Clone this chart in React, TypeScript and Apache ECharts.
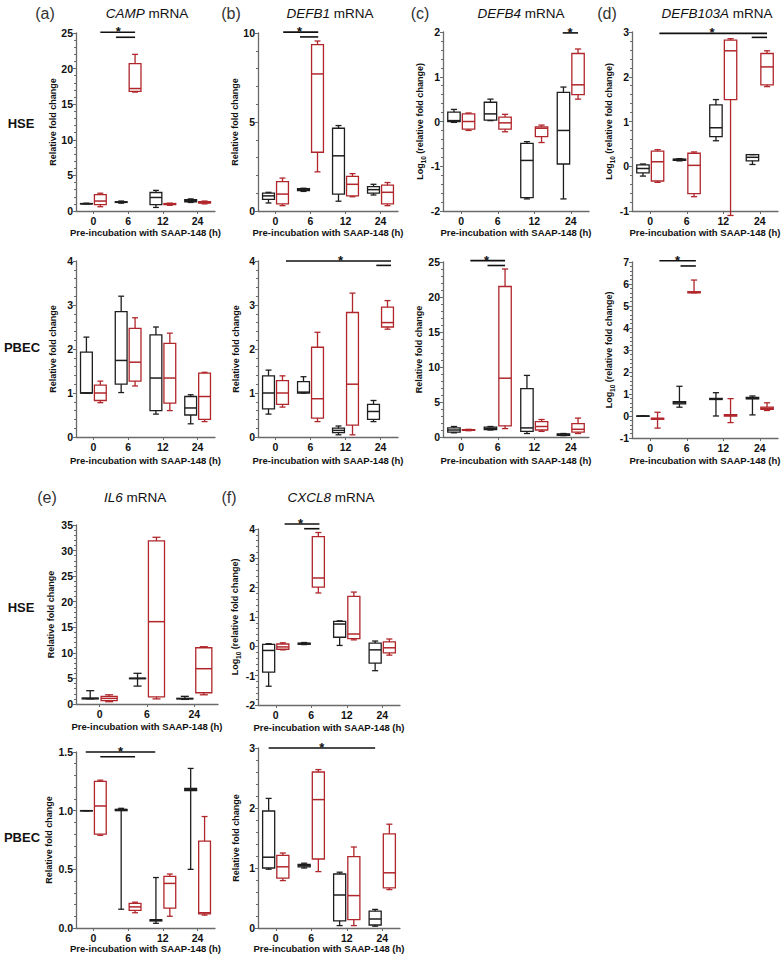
import { useEffect, useRef } from "react";
import * as echarts from "echarts";

const FONT = "'Liberation Sans', Arial, Helvetica, sans-serif";
const BLACK = "#1e1e1e";
const RED = "#b0262b";
const AXIS = "#6a6a6a";
const XNAME = "Pre-incubation with SAAP-148 (h)";
const REL = "Relative fold change";
const LOG = "{a|Log}{s|10}{a| (relative fold change)}";

const cats4 = ["0", "6", "12", "24"];
const cats3 = ["0", "6", "24"];

// Box values: [min, Q1, median, Q3, max] for each category
const campHseBlack = [[1.0, 1.0, 1.0, 1.05, 1.1], [1.1, 1.2, 1.25, 1.3, 1.4], [0.5, 0.9, 1.9, 2.6, 2.9], [1.2, 1.3, 1.45, 1.6, 1.7]];
const campHseRed = [[0.6, 0.9, 1.4, 2.3, 2.5], [16.7, 16.8, 17.2, 20.7, 22.0], [0.8, 0.9, 1.0, 1.05, 1.1], [1.0, 1.1, 1.2, 1.3, 1.4]];
const campPbecBlack = [[1.0, 1.0, 1.0, 1.93, 2.27], [1.01, 1.2, 1.74, 2.85, 3.2], [0.52, 0.6, 1.34, 2.32, 2.5], [0.3, 0.5, 0.66, 0.92, 0.96]];
const campPbecRed = [[0.78, 0.83, 1.0, 1.18, 1.27], [1.16, 1.27, 1.7, 2.47, 2.71], [0.6, 0.77, 1.34, 2.13, 2.36], [0.35, 0.4, 0.92, 1.45, 1.47]];

const defb1HseBlack = [[0.45, 0.65, 0.85, 1.0, 1.05], [1.1, 1.15, 1.2, 1.25, 1.28], [0.55, 0.95, 3.1, 4.65, 4.8], [0.9, 1.0, 1.2, 1.37, 1.5]];
const defb1HseRed = [[0.3, 0.4, 0.95, 1.65, 1.85], [2.2, 3.3, 7.7, 9.35, 9.55], [0.8, 0.85, 1.5, 1.95, 2.1], [0.3, 0.4, 1.05, 1.45, 1.6]];
const defb1PbecBlack = [[0.52, 0.64, 1.0, 1.39, 1.52], [1.0, 1.0, 1.02, 1.26, 1.37], [0.05, 0.1, 0.15, 0.2, 0.25], [0.35, 0.4, 0.58, 0.74, 0.83]];
const defb1PbecRed = [[0.68, 0.74, 1.0, 1.28, 1.39], [0.35, 0.43, 0.87, 2.04, 2.38], [0.05, 0.27, 1.2, 2.83, 3.27], [2.45, 2.5, 2.6, 2.95, 3.1]];

const defb4HseBlack = [[-0.02, 0.0, 0.02, 0.21, 0.27], [0.02, 0.03, 0.17, 0.43, 0.5], [-1.73, -1.7, -0.87, -0.49, -0.45], [-1.73, -0.95, -0.2, 0.65, 0.77]];
const defb4HseRed = [[-0.2, -0.17, 0.0, 0.17, 0.19], [-0.23, -0.17, -0.03, 0.1, 0.16], [-0.47, -0.34, -0.15, -0.12, -0.08], [0.5, 0.6, 0.82, 1.52, 1.62]];
const defb4PbecBlack = [[0.6, 0.7, 1.0, 1.3, 1.5], [1.0, 1.05, 1.2, 1.4, 1.5], [0.5, 0.8, 1.3, 6.9, 8.8], [0.2, 0.25, 0.35, 0.45, 0.5]];
const defb4PbecRed = [[0.9, 0.95, 1.0, 1.05, 1.1], [1.2, 1.6, 8.4, 21.5, 24.0], [0.8, 1.0, 1.5, 2.2, 2.5], [0.5, 0.7, 1.1, 1.9, 2.7]];

const defb103HseBlack = [[-0.22, -0.15, -0.05, 0.03, 0.05], [0.12, 0.13, 0.15, 0.16, 0.17], [0.57, 0.66, 0.86, 1.37, 1.49], [0.04, 0.12, 0.2, 0.26, 0.26]];
const defb103HseRed = [[-0.36, -0.33, 0.1, 0.34, 0.37], [-0.68, -0.61, 0.02, 0.29, 0.32], [-1.1, 1.49, 2.58, 2.82, 2.85], [1.78, 1.82, 2.22, 2.52, 2.58]];
const defb103PbecBlack = [[0, 0, 0, 0, 0], [0.4, 0.55, 0.6, 0.65, 1.35], [0, 0.75, 0.78, 0.8, 1.06], [0.05, 0.78, 0.8, 0.85, 0.91]];
const defb103PbecRed = [[-0.55, -0.15, -0.12, -0.1, 0.17], [5.6, 5.6, 5.62, 5.65, 6.18], [-0.3, 0.0, 0.03, 0.06, 0.79], [0.25, 0.3, 0.35, 0.4, 0.6]];

const il6HseBlack = [[1.0, 1.0, 1.1, 1.15, 2.6], [3.5, 4.95, 5.0, 5.05, 6.0], [0.9, 1.0, 1.05, 1.1, 1.5]];
const il6HseRed = [[0.45, 0.65, 1.1, 1.5, 1.8], [1.0, 1.4, 16.1, 31.9, 32.6], [1.8, 2.2, 6.9, 11.0, 11.2]];
const il6PbecBlack = [[1, 1, 1, 1, 1], [0.16, 1.0, 1.01, 1.01, 1.02], [0.04, 0.06, 0.07, 0.07, 0.43], [0.5, 1.17, 1.18, 1.19, 1.36]];
const il6PbecRed = [[0.79, 0.8, 1.04, 1.25, 1.26], [0.13, 0.15, 0.18, 0.21, 0.22], [0.1, 0.17, 0.38, 0.44, 0.46], [0.11, 0.12, 0.13, 0.74, 0.95]];

const cxcl8HseBlack = [[-1.36, -0.88, -0.14, 0.07, 0.09], [0.06, 0.07, 0.09, 0.11, 0.13], [0.03, 0.31, 0.76, 0.85, 0.87], [-0.83, -0.57, -0.12, 0.11, 0.18]];
const cxcl8HseRed = [[-0.12, -0.1, -0.02, 0.08, 0.12], [1.82, 2.02, 2.33, 3.74, 3.88], [0.22, 0.26, 0.42, 1.7, 1.85], [-0.3, -0.22, -0.05, 0.15, 0.25]];
const cxcl8PbecBlack = [[0.98, 1.0, 1.18, 1.95, 2.16], [1.0, 1.02, 1.04, 1.06, 1.08], [0.04, 0.12, 0.55, 0.9, 0.93], [0.03, 0.05, 0.15, 0.28, 0.31]];
const cxcl8PbecRed = [[0.79, 0.83, 1.02, 1.21, 1.25], [0.94, 1.15, 2.14, 2.6, 2.64], [0.04, 0.14, 0.54, 1.19, 1.35], [0.64, 0.67, 0.92, 1.57, 1.73]];

// Significance bars: [x start, x end, y] in category units / axis values; star: [x, y]
const campHseBars = [[0.2, 1.2, 25.1], [0.65, 1.2, 24.4]];
const campHseStar = [0.72, 25.1];
const defb1HseBars = [[0.22, 1.22, 10.05], [0.7, 1.22, 9.78]];
const defb1HseStar = [0.69, 10.05];
const defb4HseBars = [[2.78, 3.2, 1.98]];
const defb4HseStar = [2.98, 1.98];
const defb103HseBars = [[0.25, 3.2, 2.97], [2.78, 3.2, 2.88]];
const defb103HseStar = [1.69, 2.97];
const defb1PbecBars = [[0.3, 3.3, 4.0], [2.88, 3.3, 3.9]];
const defb1PbecStar = [1.86, 4.0];
const defb4PbecBars = [[0.25, 1.2, 25.2], [0.72, 1.2, 24.5]];
const defb4PbecStar = [0.69, 25.2];
const defb103PbecBars = [[0.25, 1.25, 7.06], [0.83, 1.25, 6.82]];
const defb103PbecStar = [0.75, 7.06];
const cxcl8HseBars = [[0.25, 1.23, 4.17], [0.8, 1.23, 4.01]];
const cxcl8HseStar = [0.7, 4.17];
const il6PbecBars = [[-0.22, 1.78, 1.5], [0.2, 1.2, 1.46]];
const il6PbecStar = [0.78, 1.5];
const cxcl8PbecBars = [[-0.2, 2.8, 3.0]];
const cxcl8PbecStar = [1.3, 3.0];

type Panel = {
  left: number; top: number; width: number; height: number;
  min: number; max: number; interval: number; log: boolean; nameGap: number; xNameGap: number;
  cats: string[]; black: number[][]; red: number[][];
  bars?: number[][]; star?: number[]; fixed1?: boolean;
};

const panels: Panel[] = [
  { left: 76, top: 33, width: 139, height: 178, min: 0, max: 25, interval: 5, log: false, nameGap: 19, xNameGap: 16, cats: cats4, black: campHseBlack, red: campHseRed, bars: campHseBars, star: campHseStar },
  { left: 258, top: 33, width: 140, height: 178, min: 0, max: 10, interval: 5, log: false, nameGap: 18, xNameGap: 16, cats: cats4, black: defb1HseBlack, red: defb1HseRed, bars: defb1HseBars, star: defb1HseStar },
  { left: 443, top: 32, width: 146, height: 179, min: -2, max: 2, interval: 1, log: true, nameGap: 15, xNameGap: 16, cats: cats4, black: defb4HseBlack, red: defb4HseRed, bars: defb4HseBars, star: defb4HseStar },
  { left: 632, top: 32, width: 146, height: 179, min: -1, max: 3, interval: 1, log: true, nameGap: 13, xNameGap: 16, cats: cats4, black: defb103HseBlack, red: defb103HseRed, bars: defb103HseBars, star: defb103HseStar },
  { left: 76, top: 261, width: 139, height: 176, min: 0, max: 4, interval: 1, log: false, nameGap: 19, xNameGap: 18, cats: cats4, black: campPbecBlack, red: campPbecRed },
  { left: 258, top: 261, width: 140, height: 176, min: 0, max: 4, interval: 1, log: false, nameGap: 18, xNameGap: 18, cats: cats4, black: defb1PbecBlack, red: defb1PbecRed, bars: defb1PbecBars, star: defb1PbecStar },
  { left: 443, top: 262, width: 146, height: 175, min: 0, max: 25, interval: 5, log: false, nameGap: 20, xNameGap: 18, cats: cats4, black: defb4PbecBlack, red: defb4PbecRed, bars: defb4PbecBars, star: defb4PbecStar },
  { left: 632, top: 262, width: 146, height: 176, min: -1, max: 7, interval: 1, log: true, nameGap: 13, xNameGap: 17, cats: cats4, black: defb103PbecBlack, red: defb103PbecRed, bars: defb103PbecBars, star: defb103PbecStar },
  { left: 76, top: 525, width: 142, height: 179, min: 0, max: 35, interval: 5, log: false, nameGap: 21, xNameGap: 17, cats: cats3, black: il6HseBlack, red: il6HseRed },
  { left: 258, top: 529, width: 142, height: 176, min: -2, max: 4, interval: 1, log: true, nameGap: 15, xNameGap: 17, cats: cats4, black: cxcl8HseBlack, red: cxcl8HseRed, bars: cxcl8HseBars, star: cxcl8HseStar },
  { left: 76, top: 752, width: 139, height: 176, min: 0, max: 1.5, interval: 0.5, log: false, nameGap: 23, xNameGap: 14, cats: cats4, black: il6PbecBlack, red: il6PbecRed, bars: il6PbecBars, star: il6PbecStar, fixed1: true },
  { left: 258, top: 748, width: 142, height: 180, min: 0, max: 3, interval: 1, log: false, nameGap: 18, xNameGap: 14, cats: cats4, black: cxcl8PbecBlack, red: cxcl8PbecRed, bars: cxcl8PbecBars, star: cxcl8PbecStar },
];

const titles = [
  { x: 45, y: 13, letter: "(a)", tx: 147, gene: "CAMP" },
  { x: 231, y: 13, letter: "(b)", tx: 330, gene: "DEFB1" },
  { x: 420, y: 13, letter: "(c)", tx: 521, gene: "DEFB4" },
  { x: 607, y: 13, letter: "(d)", tx: 717, gene: "DEFB103A" },
  { x: 47, y: 497, letter: "(e)", tx: 135, gene: "IL6" },
  { x: 229, y: 497, letter: "(f)", tx: 331, gene: "CXCL8" },
];
const rowLabels = [
  { x: 21, y: 123, text: "HSE" },
  { x: 22, y: 347, text: "PBEC" },
  { x: 21, y: 607, text: "HSE" },
  { x: 22, y: 837, text: "PBEC" },
];

const makeBoxRender = (color: string, side: number) => (_p: any, api: any) => {
  const cat = api.value(0);
  const band = api.size([1, 0])[0];
  const cx = api.coord([cat, 0])[0] + side * 0.2 * band;
  const w = band * 0.34;
  const cw = w * 0.5;
  const yv = [1, 2, 3, 4, 5].map((d) => api.coord([cat, api.value(d)])[1]);
  const [yMin, yQ1, yMed, yQ3, yMax] = yv;
  const st = { stroke: color, lineWidth: 1.3, fill: "none" };
  return {
    type: "group",
    children: [
      { type: "line", shape: { x1: cx, y1: yQ3, x2: cx, y2: yMax }, style: st },
      { type: "line", shape: { x1: cx - cw / 2, y1: yMax, x2: cx + cw / 2, y2: yMax }, style: st },
      { type: "line", shape: { x1: cx, y1: yQ1, x2: cx, y2: yMin }, style: st },
      { type: "line", shape: { x1: cx - cw / 2, y1: yMin, x2: cx + cw / 2, y2: yMin }, style: st },
      { type: "rect", shape: { x: cx - w / 2, y: yQ3, width: w, height: Math.max(yQ1 - yQ3, 0.3) }, style: st },
      { type: "line", shape: { x1: cx - w / 2, y1: yMed, x2: cx + w / 2, y2: yMed }, style: { stroke: color, lineWidth: 1.5 } },
    ],
  };
};

const sigRender = (_p: any, api: any) => {
  const y = api.value(1);
  const p0 = api.coord([0, y]);
  const band = api.size([1, 0])[0];
  const kind = api.value(4);
  if (kind === 1) {
    return {
      type: "text",
      x: p0[0] + api.value(2) * band,
      y: p0[1] + 6,
      style: { text: "*", fontSize: 13, fontWeight: "bold", fontFamily: FONT, fill: "#111", align: "center", verticalAlign: "bottom" },
    };
  }
  return {
    type: "line",
    shape: { x1: p0[0] + api.value(2) * band, y1: p0[1], x2: p0[0] + api.value(3) * band, y2: p0[1] },
    style: { stroke: "#111", lineWidth: 1.6 },
  };
};

function buildOption() {
  const grid: any[] = [];
  const xAxis: any[] = [];
  const yAxis: any[] = [];
  const series: any[] = [];
  const labelStyle = { fontFamily: FONT, fontWeight: "bold", fontSize: 10.5, color: "#111" };
  panels.forEach((p, i) => {
    grid.push({ left: p.left, top: p.top, width: p.width, height: p.height, containLabel: false });
    xAxis.push({
      type: "category", gridIndex: i, data: p.cats, boundaryGap: true,
      name: XNAME, nameLocation: "middle", nameGap: p.xNameGap,
      nameTextStyle: { fontFamily: FONT, fontWeight: "bold", fontSize: 9.5, color: "#111" },
      axisLine: { show: true, onZero: false, lineStyle: { color: AXIS, width: 1.3 } },
      axisTick: { show: true, alignWithLabel: true, length: 3, lineStyle: { color: AXIS } },
      axisLabel: { ...labelStyle, margin: 4, interval: 0 },
      splitLine: { show: false },
    });
    yAxis.push({
      type: "value", gridIndex: i, min: p.min, max: p.max, interval: p.interval,
      name: p.log ? LOG : REL, nameLocation: "middle", nameGap: p.nameGap,
      nameTextStyle: p.log
        ? {
            rich: {
              a: { fontFamily: FONT, fontWeight: "bold", fontSize: 9, color: "#111", lineHeight: 13 },
              s: { fontFamily: FONT, fontWeight: "bold", fontSize: 6.5, color: "#111", lineHeight: 8, verticalAlign: "bottom" },
            },
          }
        : { fontFamily: FONT, fontWeight: "bold", fontSize: 9, color: "#111" },
      axisLine: { show: true, lineStyle: { color: AXIS, width: 1.3 } },
      axisTick: { show: true, inside: false, length: 3, lineStyle: { color: AXIS } },
      minorTick: { show: true, splitNumber: 5, length: 2, lineStyle: { color: AXIS } },
      axisLabel: { ...labelStyle, margin: 3, formatter: p.fixed1 ? (v: number) => v.toFixed(1) : undefined },
      splitLine: { show: false },
    });
    series.push({
      type: "custom", xAxisIndex: i, yAxisIndex: i, clip: false, silent: true,
      renderItem: makeBoxRender(BLACK, -1),
      encode: { x: 0, y: [1, 2, 3, 4, 5] },
      data: p.black.map((b, k) => [k, ...b]),
    });
    series.push({
      type: "custom", xAxisIndex: i, yAxisIndex: i, clip: false, silent: true,
      renderItem: makeBoxRender(RED, 1),
      encode: { x: 0, y: [1, 2, 3, 4, 5] },
      data: p.red.map((b, k) => [k, ...b]),
    });
    if (p.bars) {
      const d: number[][] = p.bars.map((b) => [0, b[2], b[0], b[1], 0]);
      if (p.star) d.push([0, p.star[1], p.star[0], 0, 1]);
      series.push({
        type: "custom", xAxisIndex: i, yAxisIndex: i, clip: false, silent: true,
        renderItem: sigRender,
        encode: { x: 0, y: 1 },
        data: d,
      });
    }
  });

  const graphic: any[] = [];
  titles.forEach((t) => {
    graphic.push({
      type: "text", x: t.x, y: t.y,
      style: { text: t.letter, fontFamily: FONT, fontSize: 16, fill: "#333", align: "center", verticalAlign: "middle" },
    });
    graphic.push({
      type: "text", x: t.tx, y: t.y,
      style: {
        text: `{i|${t.gene}} mRNA`, fontFamily: FONT, fontSize: 13.5, fill: "#111", align: "center", verticalAlign: "middle",
        rich: { i: { fontFamily: FONT, fontSize: 13.5, fontStyle: "italic", fill: "#111" } },
      },
    });
  });
  rowLabels.forEach((r) => {
    graphic.push({
      type: "text", x: r.x, y: r.y,
      style: { text: r.text, fontFamily: FONT, fontSize: 13, fontWeight: "bold", fill: "#111", align: "center", verticalAlign: "middle" },
    });
  });

  return { animation: false, backgroundColor: "#ffffff", grid, xAxis, yAxis, series, graphic };
}

export default function App() {
  const ref = useRef<HTMLDivElement>(null);
  useEffect(() => {
    if (!ref.current) return;
    const chart = echarts.init(ref.current, undefined, { renderer: "svg" });
    chart.setOption(buildOption() as any);
    return () => chart.dispose();
  }, []);
  return (
    <div
      ref={ref}
      style={{ position: "fixed", left: 0, top: 0, width: 784, height: 958, background: "#fff" }}
    />
  );
}
